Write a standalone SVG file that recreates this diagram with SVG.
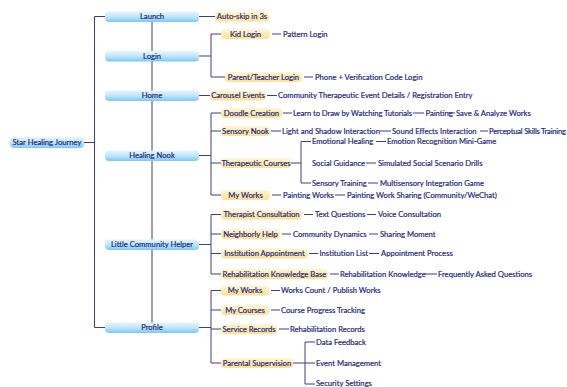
<svg xmlns="http://www.w3.org/2000/svg" width="567" height="387" viewBox="0 0 567 387">
<defs>
<linearGradient id="gb" x1="0" y1="0" x2="0" y2="1">
<stop offset="0" stop-color="#e6f6ff"/>
<stop offset="0.5" stop-color="#bfe6fc"/>
<stop offset="1" stop-color="#7cc8f4"/>
</linearGradient>
<linearGradient id="gy" x1="0" y1="0" x2="0" y2="1">
<stop offset="0" stop-color="#fff6d6"/>
<stop offset="1" stop-color="#fde092"/>
</linearGradient>
</defs>
<style>
text{font-family:Lato,"Liberation Sans",sans-serif;font-size:7.65px;fill:#1e2a7e;stroke:#1e2a7e;stroke-width:0.2px;}
.c{text-anchor:middle;}
.b{fill:url(#gb);}
.y{fill:url(#gy);}
.l{stroke:#3c3c96;stroke-width:1;fill:none;}
</style>
<rect width="567" height="387" fill="#ffffff"/>
<g id="connectors" class="l">
<path d="M84 142.5H94.5M105 16.5H94.5V327.5H105"/>
<path d="M152 16.5V327.5"/>
<path d="M199 16.5H215"/>
<path d="M199 56H211M221 34H211V77H225"/>
<path d="M272 34H281M304 77H313"/>
<path d="M199 95.5H210M267 95.5H277"/>
<path d="M199 155.5H211M221 113H211V195H221M211 131H221M211 163H221"/>
<path d="M283 113H292M413 113H424M448 113H455"/>
<path d="M271 131H281M380 131H391M480 131H488"/>
<path d="M291 163H301M311 141.5H301V183H311"/>
<path d="M376 141.5H386M366 163H376M368 183H378"/>
<path d="M272 195H281M335 195H345"/>
<path d="M199 244.5H211M221 214.5H211V274H221M211 234H221M211 253.5H221"/>
<path d="M304 214.5H313M367 214.5H376M282 234H291M369 234H378M309 253.5H318M369 253.5H379M330 274H339M425 274H437"/>
<path d="M199 327.5H211M221 290.5H211V363H221M211 310H221M211 329H221"/>
<path d="M271 290.5H280M271 310H280M279 329H289"/>
<path d="M293 363H305M315 342H305V384H315M305 363H315"/>
</g>
<g id="root"><rect class="b" x="10" y="137" width="74" height="11" rx="4"/><text class="c" x="47" y="145.3">Star Healing Journey</text></g>
<g id="launch"><rect class="b" x="105" y="11.5" width="94" height="10.5" rx="4"/><text class="c" x="152" y="19.3">Launch</text></g>
<g id="login"><rect class="b" x="105" y="51" width="94" height="10.5" rx="4"/><text class="c" x="152" y="58.8">Login</text></g>
<g id="home"><rect class="b" x="105" y="90.5" width="94" height="10.5" rx="4"/><text class="c" x="152" y="98.3">Home</text></g>
<g id="healing"><rect class="b" x="105" y="150.5" width="94" height="10.5" rx="4"/><text class="c" x="152" y="158.3">Healing Nook</text></g>
<g id="community"><rect class="b" x="105" y="239.5" width="94" height="10.5" rx="4"/><text class="c" x="152" y="247.3">Little Community Helper</text></g>
<g id="profile"><rect class="b" x="105" y="322.5" width="94" height="10.5" rx="4"/><text class="c" x="152" y="330.3">Profile</text></g>
<g id="autoskip"><rect class="y" x="215" y="11.5" width="54" height="10" rx="4"/><text class="c" x="242" y="19.3">Auto-skip in 3s</text></g>
<g id="kidlogin"><rect class="y" x="221" y="29" width="49" height="10" rx="4"/><text class="c" x="245.5" y="36.8">Kid Login</text><text x="283" y="36.8">Pattern Login</text></g>
<g id="parentlogin"><rect class="y" x="225" y="72" width="77" height="10" rx="4"/><text class="c" x="263.5" y="79.8">Parent/Teacher Login</text><text x="315" y="79.8">Phone + Verification Code Login</text></g>
<g id="carousel"><rect class="y" x="210" y="90.5" width="56" height="10" rx="4"/><text class="c" x="238" y="98.3">Carousel Events</text><text x="278" y="98.3">Community Therapeutic Event Details / Registration Entry</text></g>
<g id="doodle"><rect class="y" x="221" y="108" width="61" height="10" rx="4"/><text class="c" x="251.5" y="115.8">Doodle Creation</text><text x="293" y="115.8" textLength="119">Learn to Draw by Watching Tutorials</text><text x="425.5" y="115.8">Painting</text><text x="456" y="115.8">Save &amp; Analyze Works</text></g>
<g id="sensorynook"><rect class="y" x="221" y="126" width="49" height="10" rx="4"/><text class="c" x="245.5" y="133.8">Sensory Nook</text><text x="282" y="133.8">Light and Shadow Interaction</text><text x="392" y="133.8">Sound Effects Interaction</text><text x="489" y="133.8" textLength="77">Perceptual Skills Training</text></g>
<g id="therapeutic"><rect class="y" x="221" y="158" width="70" height="10" rx="4"/><text class="c" x="256" y="165.8">Therapeutic Courses</text>
<text x="312" y="144.3">Emotional Healing</text><text x="387" y="144.3">Emotion Recognition Mini-Game</text>
<text x="312" y="165.8">Social Guidance</text><text x="378" y="165.8">Simulated Social Scenario Drills</text>
<text x="312" y="185.8">Sensory Training</text><text x="380" y="185.8">Multisensory Integration Game</text></g>
<g id="myworks1"><rect class="y" x="221" y="190" width="49" height="10" rx="4"/><text class="c" x="245.5" y="197.8">My Works</text><text x="283" y="197.8">Painting Works</text><text x="347" y="197.8">Painting Work Sharing (Community/WeChat)</text></g>
<g id="therapist"><rect class="y" x="221" y="209.5" width="81" height="10" rx="4"/><text class="c" x="261.5" y="217.3">Therapist Consultation</text><text x="315" y="217.3">Text Questions</text><text x="378" y="217.3">Voice Consultation</text></g>
<g id="neighborly"><rect class="y" x="221" y="229" width="59" height="10" rx="4"/><text class="c" x="250.5" y="236.8">Neighborly Help</text><text x="293" y="236.8">Community Dynamics</text><text x="380" y="236.8">Sharing Moment</text></g>
<g id="institution"><rect class="y" x="221" y="248.5" width="87" height="10" rx="4"/><text class="c" x="264.5" y="256.3">Institution Appointment</text><text x="319.5" y="256.3">Institution List</text><text x="381" y="256.3">Appointment Process</text></g>
<g id="rehab"><rect class="y" x="221" y="269" width="107" height="10" rx="4"/><text class="c" x="274.5" y="276.8">Rehabilitation Knowledge Base</text><text x="340" y="276.8">Rehabilitation Knowledge</text><text x="438" y="276.8">Frequently Asked Questions</text></g>
<g id="myworks2"><rect class="y" x="221" y="285.5" width="48" height="10" rx="4"/><text class="c" x="245" y="293.3">My Works</text><text x="281" y="293.3">Works Count / Publish Works</text></g>
<g id="mycourses"><rect class="y" x="221" y="305" width="48" height="10" rx="4"/><text class="c" x="245" y="312.8">My Courses</text><text x="281" y="312.8">Course Progress Tracking</text></g>
<g id="service"><rect class="y" x="221" y="324" width="56" height="10" rx="4"/><text class="c" x="249" y="331.8">Service Records</text><text x="290" y="331.8">Rehabilitation Records</text></g>
<g id="parental"><rect class="y" x="221" y="358" width="72" height="10" rx="4"/><text class="c" x="257" y="365.8">Parental Supervision</text><text x="316" y="344.8">Data Feedback</text><text x="316" y="365.8">Event Management</text><text x="316" y="386.3">Security Settings</text></g>
</svg>
